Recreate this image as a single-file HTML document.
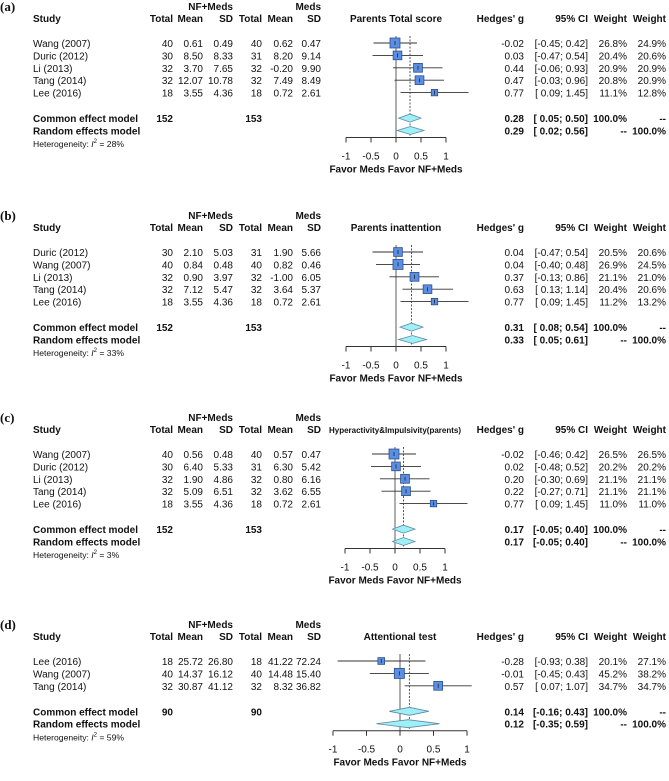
<!DOCTYPE html>
<html><head><meta charset="utf-8"><style>
html,body{margin:0;padding:0;background:#fff;}
svg{display:block;font-family:"Liberation Sans",Arial,sans-serif;}
</style></head><body>
<svg id="fig" width="669" height="781" viewBox="0 0 669 781" xmlns="http://www.w3.org/2000/svg"></svg>
<script>
// ---------- data ----------
const panelLabels = ["(a)","(b)","(c)","(d)"];
const panelTitles = ["Parents Total score","Parents inattention","Hyperactivity&Impulsivity(parents)","Attentional test"];
const hetI2 = ["28%","33%","3%","59%"];
const studiesA = ["Wang (2007)","Duric (2012)","Li (2013)","Tang (2014)","Lee (2016)"];
const studiesB = ["Duric (2012)","Wang (2007)","Li (2013)","Tang (2014)","Lee (2016)"];
const studiesC = ["Wang (2007)","Duric (2012)","Li (2013)","Tang (2014)","Lee (2016)"];
const studiesD = ["Lee (2016)","Wang (2007)","Tang (2014)"];
const n1A=["40","30","32","32","18"], m1A=["0.61","8.50","3.70","12.07","3.55"], sd1A=["0.49","8.33","7.65","10.78","4.36"];
const n2A=["40","31","32","32","18"], m2A=["0.62","8.20","-0.20","7.49","0.72"], sd2A=["0.47","9.14","9.90","8.49","2.61"];
const n1B=["30","40","32","32","18"], m1B=["2.10","0.84","0.90","7.12","3.55"], sd1B=["5.03","0.48","3.97","5.47","4.36"];
const n2B=["31","40","32","32","18"], m2B=["1.90","0.82","-1.00","3.64","0.72"], sd2B=["5.66","0.46","6.05","5.37","2.61"];
const n1C=["40","30","32","32","18"], m1C=["0.56","6.40","1.90","5.09","3.55"], sd1C=["0.48","5.33","4.86","6.51","4.36"];
const n2C=["40","31","32","32","18"], m2C=["0.57","6.30","0.80","3.62","0.72"], sd2C=["0.47","5.42","6.16","6.55","2.61"];
const n1D=["18","40","32"], m1D=["25.72","14.37","30.87"], sd1D=["26.80","16.12","41.12"];
const n2D=["18","40","32"], m2D=["41.22","14.48","8.32"], sd2D=["72.24","15.40","36.82"];
const gA=[-0.02,0.03,0.44,0.47,0.77], loA=[-0.45,-0.47,-0.06,-0.03,0.09], hiA=[0.42,0.54,0.93,0.96,1.45];
const gB=[0.04,0.04,0.37,0.63,0.77], loB=[-0.47,-0.40,-0.13,0.13,0.09], hiB=[0.54,0.48,0.86,1.14,1.45];
const gC=[-0.02,0.02,0.20,0.22,0.77], loC=[-0.46,-0.48,-0.30,-0.27,0.09], hiC=[0.42,0.52,0.69,0.71,1.45];
const gD=[-0.28,-0.01,0.57], loD=[-0.93,-0.45,0.07], hiD=[0.38,0.43,1.07];
const wcA=[26.8,20.4,20.9,20.8,11.1], wrA=[24.9,20.6,20.9,20.9,12.8];
const wcB=[20.5,26.9,21.1,20.4,11.2], wrB=[20.6,24.5,21.0,20.6,13.2];
const wcC=[26.5,20.2,21.1,21.1,11.0], wrC=[26.5,20.2,21.1,21.1,11.0];
const wcD=[20.1,45.2,34.7], wrD=[27.1,38.2,34.7];
const commonA=[0.28,0.05,0.50], randomA=[0.29,0.02,0.56];
const commonB=[0.31,0.08,0.54], randomB=[0.33,0.05,0.61];
const commonC=[0.17,-0.05,0.40], randomC=[0.17,-0.05,0.40];
const commonD=[0.14,-0.16,0.43], randomD=[0.12,-0.35,0.59];
const totalsA=["152","153"], totalsB=["152","153"], totalsC=["152","153"], totalsD=["90","90"];
const tickVals=[-1,-0.5,0,0.5,1];
const tickLabels=["-1","-0.5","0","0.5","1"];

const panels=[
 {studies:studiesA,n1:n1A,m1:m1A,sd1:sd1A,n2:n2A,m2:m2A,sd2:sd2A,g:gA,lo:loA,hi:hiA,wc:wcA,wr:wrA,common:commonA,random:randomA,totals:totalsA},
 {studies:studiesB,n1:n1B,m1:m1B,sd1:sd1B,n2:n2B,m2:m2B,sd2:sd2B,g:gB,lo:loB,hi:hiB,wc:wcB,wr:wrB,common:commonB,random:randomB,totals:totalsB},
 {studies:studiesC,n1:n1C,m1:m1C,sd1:sd1C,n2:n2C,m2:m2C,sd2:sd2C,g:gC,lo:loC,hi:hiC,wc:wcC,wr:wrC,common:commonC,random:randomC,totals:totalsC},
 {studies:studiesD,n1:n1D,m1:m1D,sd1:sd1D,n2:n2D,m2:m2D,sd2:sd2D,g:gD,lo:loD,hi:hiD,wc:wcD,wr:wrD,common:commonD,random:randomD,totals:totalsD}
];
// layout (not data)
const headerY=[18,227,429,636];
const zeroX=[396,396,395,400];
const unitPx=[50,50,50,67];
const sqScale=[1.93,1.93,1.93,1.5];
const FS=10;

const NS="http://www.w3.org/2000/svg";
const svg=document.getElementById('fig');
function el(tag,attrs,parent){const e=document.createElementNS(NS,tag);for(const k in attrs)e.setAttribute(k,attrs[k]);(parent||svg).appendChild(e);return e;}
function txt(s,x,y,opt,parent,name){
  const t=el('text',{x:x,y:y,'font-size':opt.size||FS,'text-anchor':opt.anchor||'start','font-weight':opt.bold?'bold':'normal',fill:'#111'},parent);
  if(opt.family)t.setAttribute('font-family',opt.family);
  t.textContent=s;
  
  
  return t;
}
function fmt(v){return v.toFixed(2);}
function ci(lo,hi){const a=lo<0?fmt(lo):' '+fmt(lo);return '['+a+'; '+fmt(hi)+']';}

panels.forEach((p,pi)=>{
  const H=headerY[pi];
  const g=el('g',{});
  
  
  const X=v=>zeroX[pi]+v*unitPx[pi];
  const rowY=i=>H+25+i*12.4;
  const nRows=p.studies.length;
  const comY=rowY(nRows-1)+25.5, ranY=comY+12.4, hetY=ranY+12.6, axY=ranY+7;

  txt(panelLabels[pi],0,H-7,{size:13,bold:true,family:'"Liberation Serif",serif'},g,'panel-label');
  txt('NF+Meds',233,H-8,{bold:true,anchor:'end'},g,'group-header-nfmeds');
  txt('Meds',321,H-8,{bold:true,anchor:'end'},g,'group-header-meds');
  txt('Study',33,H+4,{bold:true},g,'study-header');
  [['Total',173],['Mean',203],['SD',233],['Total',262],['Mean',293],['SD',321]].forEach(c=>txt(c[0],c[1],H+4,{bold:true,anchor:'end'},g,'column-header'));
  txt(panelTitles[pi],zeroX[pi],H+4,{bold:true,anchor:'middle',size:pi===2?8:FS},g,'plot-title');
  txt("Hedges' g",524,H+4,{bold:true,anchor:'end'},g,'hedges-g-header');
  txt('95% CI',588,H+4,{bold:true,anchor:'end'},g,'ci-header');
  txt('Weight',627,H+4,{bold:true,anchor:'end'},g,'weight-common-header');
  txt('Weight',666,H+4,{bold:true,anchor:'end'},g,'weight-random-header');

  const l0=el('line',{x1:X(0),x2:X(0),y1:rowY(0)-7,y2:axY,stroke:'#777','stroke-width':1.2},g);
  
  
  const ld=el('line',{x1:X(p.common[0]),x2:X(p.common[0]),y1:rowY(0)-7,y2:ranY+5,stroke:'#444','stroke-width':0.9,'stroke-dasharray':'2,1.5'},g);
  
  

  p.studies.forEach((s,i)=>{
    const y=rowY(i);
    txt(s,33,y+4,{},g,'study-name');
    [[p.n1[i],173],[p.m1[i],203],[p.sd1[i],233],[p.n2[i],262],[p.m2[i],293],[p.sd2[i],321]].forEach(c=>txt(c[0],c[1],y+4,{anchor:'end'},g,'study-value'));
    txt(fmt(p.g[i]),524,y+4,{anchor:'end'},g,'hedges-g-value');
    txt(ci(p.lo[i],p.hi[i]),588,y+4,{anchor:'end'},g,'ci-value');
    txt(p.wc[i].toFixed(1)+'%',627,y+4,{anchor:'end'},g,'weight-common-value');
    txt(p.wr[i].toFixed(1)+'%',666,y+4,{anchor:'end'},g,'weight-random-value');
    const cl=el('line',{x1:X(p.lo[i]),x2:X(p.hi[i]),y1:y,y2:y,stroke:'#333','stroke-width':0.9},g);
    
    
    const sz=Math.sqrt(p.wc[i])*sqScale[pi];
    const sq=el('rect',{x:X(p.g[i])-sz/2,y:y-sz/2,width:sz,height:sz,fill:'#5b8fe3',stroke:'#2d4f8a','stroke-width':0.8},g);
    
    
    const tk=el('line',{x1:X(p.g[i]),x2:X(p.g[i]),y1:y-2,y2:y+2,stroke:'#222','stroke-width':0.8},g);
    
    
  });

  txt('Common effect model',33,comY+4,{bold:true},g,'common-effect-label');
  txt(p.totals[0],173,comY+4,{bold:true,anchor:'end'},g,'common-total-nf');
  txt(p.totals[1],262,comY+4,{bold:true,anchor:'end'},g,'common-total-meds');
  txt('Random effects model',33,ranY+4,{bold:true},g,'random-effects-label');
  const het=txt('Heterogeneity: ',33,hetY+4,{size:8.6},g,'heterogeneity-label');
  const ts=el('tspan',{'font-style':'italic'},het);ts.textContent='I';
  const sup=el('tspan',{dy:-4,'font-size':6},het);sup.textContent='2';
  const rest=el('tspan',{dy:4},het);rest.textContent=' = '+hetI2[pi];
  [[p.common,comY,'100.0%','--','common'],[p.random,ranY,'--','100.0%','random']].forEach(r=>{
    const [v,y,w1,w2,nm]=r;
    txt(fmt(v[0]),524,y+4,{bold:true,anchor:'end'},g,nm+'-g-value');
    txt(ci(v[1],v[2]),588,y+4,{bold:true,anchor:'end'},g,nm+'-ci-value');
    txt(w1,627,y+4,{bold:true,anchor:'end'},g,nm+'-weight-common');
    txt(w2,666,y+4,{bold:true,anchor:'end'},g,nm+'-weight-random');
    const d=el('polygon',{points:`${X(v[1])},${y} ${X(v[0])},${y-4} ${X(v[2])},${y} ${X(v[0])},${y+4}`,fill:'#9ef0f6',stroke:'#5f8aa8','stroke-width':0.8},g);
    
    
  });

  const ax=el('line',{x1:X(-1),x2:X(1),y1:axY,y2:axY,stroke:'#333','stroke-width':1},g);
  
  
  tickVals.forEach((v,i)=>{
    const t=el('line',{x1:X(v),x2:X(v),y1:axY,y2:axY+5,stroke:'#333','stroke-width':1},g);
    
    
    txt(tickLabels[i],X(v),axY+22,{anchor:'middle'},g,'x-tick-label');
  });
  txt('Favor Meds Favor NF+Meds',zeroX[pi],axY+35,{bold:true,anchor:'middle'},g,'x-axis-title');
});
</script>
</body></html>
